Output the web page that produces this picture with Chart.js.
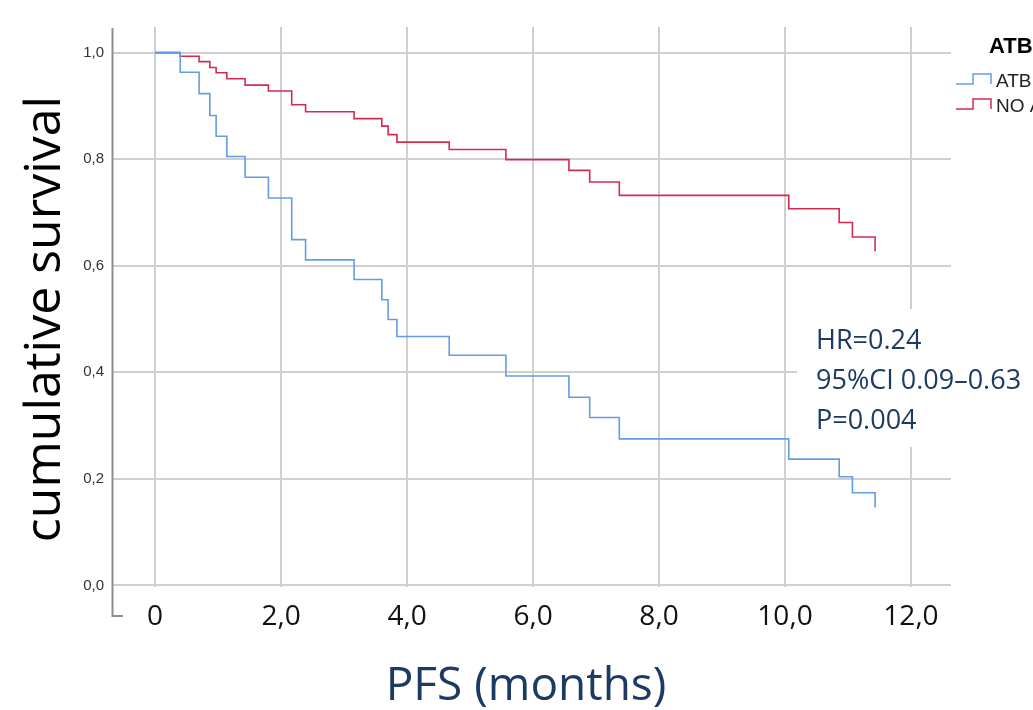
<!DOCTYPE html>
<html>
<head>
<meta charset="utf-8">
<script src="https://cdn.jsdelivr.net/npm/chart.js"></script>
<style>
  html, body { margin: 0; padding: 0; background: #fff; }
  #wrap { width: 1033px; height: 710px; position: relative; }
</style>
</head>
<body>
<div id="wrap"><canvas id="km" width="1033" height="710"></canvas></div>
<script>
// event times (months), shared by both groups
const times = [0, 0.40, 0.70, 0.87, 0.97, 1.14, 1.43, 1.80, 2.17, 2.39, 3.16, 3.60, 3.70, 3.84, 4.67, 5.57, 6.57, 6.90, 7.37, 10.06, 10.86, 11.07, 11.43];
const atbSurv = [1.0, 0.963, 0.923, 0.882, 0.843, 0.805, 0.766, 0.727, 0.649, 0.611, 0.574, 0.536, 0.499, 0.467, 0.432, 0.393, 0.353, 0.315, 0.275, 0.237, 0.204, 0.174, 0.146];
const noAtbSurv = [1.0, 0.993, 0.983, 0.972, 0.962, 0.951, 0.939, 0.928, 0.902, 0.889, 0.876, 0.862, 0.846, 0.832, 0.818, 0.799, 0.779, 0.757, 0.732, 0.707, 0.681, 0.654, 0.627];
const groupLabels = ['ATB', 'NO ATB'];
const xTicks = [0, 2, 4, 6, 8, 10, 12];
const yTicks = [0, 0.2, 0.4, 0.6, 0.8, 1.0];
const statLines = ['HR=0.24', '95%CI 0.09\u20130.63', 'P=0.004'];

const NAVY = '#1d3a63';
const comma = v => v.toFixed(1).replace('.', ',');

const toPoints = ys => times.map((t, i) => ({ x: t, y: ys[i] }));

// extra drawing: axis line with hook, titles, stats box, legend
const extras = {
  id: 'extras',
  beforeDatasetsDraw(chart) {
    const { ctx, chartArea } = chart;
    ctx.save();
    // white patch behind the stats text (hides grid)
    ctx.fillStyle = '#fff';
    ctx.fillRect(797, 309, chartArea.right - 797 + 2, 138);
    // y axis line with small hook at bottom
    ctx.strokeStyle = '#8c8c8c';
    ctx.lineWidth = 2;
    ctx.beginPath();
    ctx.moveTo(chartArea.left - 0.5, chartArea.top + 1);
    ctx.lineTo(chartArea.left - 0.5, chartArea.bottom + 29);
    ctx.lineTo(chartArea.left + 10, chartArea.bottom + 29);
    ctx.stroke();
    ctx.restore();
  },
  afterDraw(chart) {
    const { ctx } = chart;
    ctx.save();
    // stats
    ctx.fillStyle = NAVY;
    ctx.font = '27px "Open Sans"';
    ctx.textAlign = 'left';
    ctx.textBaseline = 'alphabetic';
    statLines.forEach((s, i) => ctx.fillText(s, 816, 349 + i * 40));

    // x axis title
    ctx.font = '46px "Open Sans"';
    ctx.textAlign = 'center';
    ctx.fillText('PFS (months)', 526, 700);

    // y axis title
    ctx.fillStyle = '#000';
    ctx.font = '50px "Open Sans"';
    ctx.translate(60, 319);
    ctx.rotate(-Math.PI / 2);
    ctx.textAlign = 'center';
    ctx.fillText('cumulative survival', 0, 0);
    ctx.restore();

    // legend
    ctx.save();
    ctx.fillStyle = '#000';
    ctx.font = 'bold 22px "Liberation Sans"';
    ctx.textAlign = 'left';
    ctx.fillText('ATB', 989, 53);
    ctx.font = '19px "Liberation Sans"';
    chart.data.datasets.forEach((ds, i) => {
      const y = 84 + i * 25;
      ctx.strokeStyle = ds.borderColor;
      ctx.lineWidth = 1.5;
      ctx.beginPath();
      ctx.moveTo(956, y);
      ctx.lineTo(973, y);
      ctx.lineTo(973, y - 10);
      ctx.lineTo(991, y - 10);
      ctx.lineTo(991, y);
      ctx.stroke();
      ctx.fillStyle = '#222';
      ctx.fillText(ds.label, 996, y + 3);
    });
    ctx.restore();
  }
};

new Chart(document.getElementById('km'), {
  type: 'line',
  data: {
    datasets: [
      {
        label: groupLabels[0],
        data: toPoints(atbSurv),
        borderColor: '#639de6',
        borderWidth: 1.6,
        stepped: 'before',
        pointRadius: 0,
        fill: false
      },
      {
        label: groupLabels[1],
        data: toPoints(noAtbSurv),
        borderColor: '#d62a52',
        borderWidth: 1.6,
        stepped: 'before',
        pointRadius: 0,
        fill: false
      }
    ]
  },
  options: {
    responsive: false,
    animation: false,
    layout: { padding: { top: 27, right: 82, left: 0, bottom: 0 } },
    plugins: { legend: { display: false }, tooltip: { enabled: false } },
    scales: {
      x: {
        type: 'linear',
        min: -0.667,
        max: 12.635,
        afterBuildTicks: s => { s.ticks = xTicks.map(v => ({ value: v })); },
        afterFit: s => { s.height = 123; },
        grid: { color: '#cfcfcf', lineWidth: 2, drawTicks: false },
        border: { display: false },
        ticks: {
          autoSkip: false,
          maxRotation: 0,
          padding: 13,
          color: '#111',
          font: { family: 'Open Sans', size: 28 },
          callback: v => (v === 0 ? '0' : comma(v))
        }
      },
      y: {
        type: 'linear',
        min: -0.003,
        max: 1.048,
        afterBuildTicks: s => { s.ticks = yTicks.map(v => ({ value: v })); },
        afterFit: s => { s.width = 113; },
        grid: { color: '#cfcfcf', lineWidth: 2, drawTicks: false },
        border: { display: false },
        ticks: {
          padding: 9,
          color: '#333',
          font: { family: 'Liberation Sans', size: 15 },
          callback: v => comma(v)
        }
      }
    }
  },
  plugins: [extras]
});
</script>
</body>
</html>
